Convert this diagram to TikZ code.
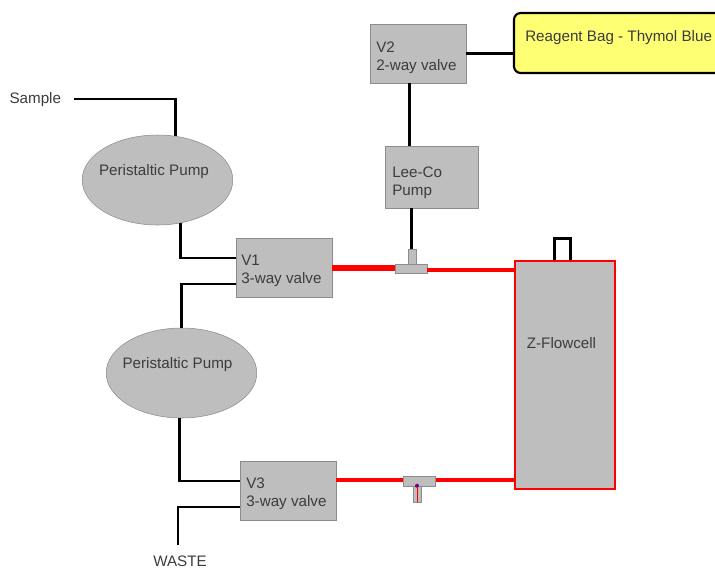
\documentclass[tikz,border=0pt]{standalone}
\usepackage{fontspec}
\setmainfont{Liberation Sans}
\usepackage{xcolor}
\usetikzlibrary{arrows.meta, positioning, calc, shapes}
\definecolor{boxgrey}{RGB}{190,190,190}
\definecolor{edgegrey}{RGB}{140,140,140}
\definecolor{inkgrey}{RGB}{60,60,60}
\definecolor{bagyellow}{RGB}{255,255,115}
\tikzset{
  labeltext/.style={text=inkgrey, font=\fontsize{11.4}{13.5}\selectfont, inner sep=0pt, align=left},
  valvebox/.style={draw=edgegrey, fill=boxgrey, rectangle, inner sep=0pt, minimum width=72pt, minimum height=44.5pt},
  valvetext/.style={labeltext, anchor=west},
  pumpbody/.style={draw=edgegrey, fill=boxgrey, ellipse, inner sep=0pt, minimum width=113pt, minimum height=67.5pt},
  teepiece/.style={draw=edgegrey, fill=boxgrey, rectangle, inner sep=0pt},
  tube/.style={black, line width=2.2pt},
  hotline/.style={red, line width=3pt},
}
\begin{document}
\begin{tikzpicture}[x=0.75pt, y=-0.75pt]
  \clip (0,0) rectangle (715,569);
  % Pumps
  \node[pumpbody] (pumpa) at (157.5,180) {};
  \node[labeltext] (pumpatext) at (154,171.5) {Peristaltic Pump};
  \node[pumpbody] (pumpb) at (181.5,373) {};
  \node[labeltext] (pumpbtext) at (177.5,365) {Peristaltic Pump};
  % Valves
  \node[valvebox] (vone) at (284,268) {};
  \node[valvetext] (vonetext) at (241,270.5) {V1\\3-way valve};
  \node[valvebox] (vtwo) at (418,53.5) {};
  \node[valvetext] (vtwotext) at (376,57.5) {V2\\2-way valve};
  \node[valvebox] (vthree) at (288,491) {};
  \node[valvetext] (vthreetext) at (246,494) {V3\\3-way valve};
  % Lee-Co pump, bag and flowcell
  \node[teepiece, minimum width=70pt, minimum height=46.5pt] (leeco) at (431.5,177) {};
  \node[valvetext] (leecotext) at (392,183) {Lee-Co\\Pump};
  \node[draw=black, line width=1.6pt, fill=bagyellow, rectangle, rounded corners=5pt, inner sep=0pt,
    minimum width=165pt, minimum height=45pt] (bag) at (624,43) {};
  \node[valvetext] (bagtext) at (525,38) {Reagent Bag - Thymol Blue};
  \node[draw=red, line width=2.2pt, fill=boxgrey, rectangle, inner sep=0pt,
    minimum width=75pt, minimum height=171pt] (cell) at (565,375) {};
  \node[labeltext] (celltext) at (561.5,343) {Z-Flowcell};
  % Tees
  \node[teepiece, minimum width=6pt, minimum height=11pt] (teeastem) at (412,257) {};
  \node[teepiece, minimum width=24pt, minimum height=7pt] (teea) at (411,269) {};
  \node[teepiece, minimum width=6pt, minimum height=12pt] (teebstem) at (417,494) {};
  \node[teepiece, minimum width=24pt, minimum height=7.5pt] (teeb) at (419.5,481) {};
  % Free ends
  \node[labeltext, anchor=east, inner xsep=9.5pt] (sample) at (74,100) {Sample};
  \node[labeltext] (waste) at (180,561) {WASTE};
  % Black tubing
  \draw[tube] ([yshift=0.75pt]sample.east) -| (pumpa.68);
  \draw[tube] (pumpa.-62) |- ([yshift=7.5pt]vone.west);
  \draw[tube] ([yshift=-12pt]vone.west) -| (pumpb.90);
  \draw[tube] (pumpb.-93) |- ([yshift=7.5pt]vthree.west);
  \coordinate (wasteend) at (178,545);
  \draw[tube] ([yshift=-12pt]vthree.west) -| (wasteend);
  \draw[tube] (vtwo.east) -- (bag.west |- vtwo.east);
  \draw[tube] ([xshift=-6.5pt]vtwo.south) -- ([xshift=-6.5pt]vtwo.south |- leeco.north);
  \draw[tube] ([xshift=-15pt]leeco.south) -- ([xshift=-15pt]leeco.south |- teeastem.north);
  \draw[tube, line width=2.8pt] ([xshift=-7.9pt]cell.north) -- ++(0,-21) -| ([xshift=4.1pt]cell.north);
  % Red tubing
  \draw[hotline, line width=3.8pt] (vone.east) -- (vone.east -| teea.west);
  \draw[hotline, line width=2.8pt] ([yshift=-1pt]teea.east) -- ([yshift=-1pt]teea.east -| cell.west);
  \draw[hotline] ([yshift=8pt]vthree.east) -- ([yshift=8pt]vthree.east -| teeb.west);
  \draw[hotline] ([yshift=1pt]teeb.east) -- ([yshift=1pt]teeb.east -| cell.west);
  \draw[red, line width=0.7pt] (teebstem.north) -- (teebstem.south);
  \fill[violet] (teebstem.north) circle (1.5pt);
\end{tikzpicture}
\end{document}
